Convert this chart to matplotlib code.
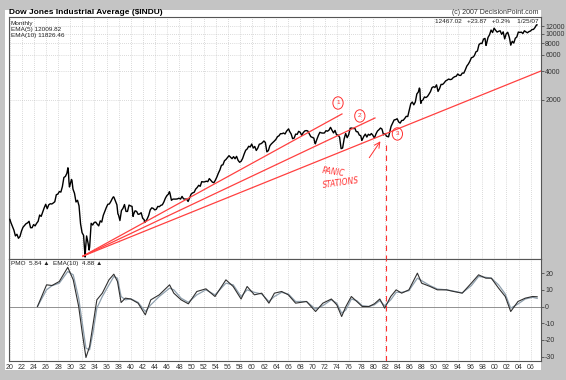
import numpy as np
import matplotlib
matplotlib.use("Agg")
import matplotlib.pyplot as plt

plt.rcParams['font.family'] = ['Liberation Sans', 'DejaVu Sans']

# DJIA month-end closes, Mar/Jun/Sep/Dec of each year
dow_years = list(range(1920, 2007))
dow_quarters = [
    [100, 91, 83, 72], [75, 68, 71, 81], [89, 93, 97, 99], [103, 88, 88, 95],
    [92, 98, 103, 120], [116, 129, 143, 156], [140, 154, 158, 157], [161, 166, 197, 200],
    [213, 210, 240, 300], [308, 333, 343, 248], [286, 226, 204, 165], [172, 150, 97, 78],
    [73, 43, 72, 60], [55, 98, 94, 100], [101, 96, 92, 104], [101, 119, 131, 144],
    [156, 157, 167, 180], [186, 169, 154, 121], [105, 134, 141, 155], [131, 131, 153, 150],
    [148, 122, 133, 131], [122, 123, 127, 111], [107, 103, 109, 119], [136, 143, 141, 136],
    [138, 148, 147, 152], [154, 165, 181, 193], [200, 205, 172, 177], [177, 177, 178, 181],
    [177, 189, 178, 177], [177, 167, 182, 200], [206, 209, 226, 235], [248, 242, 271, 269],
    [270, 274, 271, 292], [280, 268, 264, 281], [304, 334, 361, 404], [409, 451, 466, 488],
    [511, 492, 475, 499], [474, 503, 456, 435], [446, 478, 532, 583], [602, 643, 632, 679],
    [616, 640, 580, 615], [676, 683, 701, 731], [706, 561, 579, 652], [682, 706, 732, 762],
    [813, 831, 875, 874], [889, 868, 930, 969], [924, 870, 774, 785], [865, 860, 926, 905],
    [840, 897, 935, 943], [935, 873, 813, 800], [785, 683, 760, 838], [904, 891, 887, 890],
    [940, 929, 953, 1020], [951, 891, 947, 850], [846, 802, 607, 616], [768, 879, 793, 852],
    [999, 1003, 990, 1004], [919, 916, 847, 831], [757, 819, 865, 805], [862, 842, 878, 839],
    [786, 868, 932, 964], [1004, 977, 850, 875], [822, 811, 896, 1046], [1130, 1222, 1233, 1259],
    [1165, 1132, 1207, 1212], [1267, 1336, 1329, 1547], [1819, 1893, 1768, 1896], [2305, 2419, 2597, 1939],
    [1988, 2142, 2113, 2169], [2294, 2440, 2693, 2753], [2707, 2881, 2453, 2634], [2914, 2907, 3017, 3169],
    [3236, 3319, 3272, 3301], [3436, 3516, 3555, 3754], [3636, 3625, 3843, 3834], [4158, 4556, 4789, 5117],
    [5587, 5655, 5882, 6448], [6584, 7673, 7945, 7908], [8800, 8952, 7843, 9181], [9786, 10971, 10337, 11497],
    [10922, 10448, 10651, 10787], [9879, 10502, 8848, 10022], [10404, 9243, 7592, 8342], [7992, 8985, 9275, 10454],
    [10358, 10435, 10080, 10783], [10504, 10275, 10569, 10718], [11109, 11150, 11679, 12463],
]
# extra monthly closes around turning points
extra_months = ["1920-01", "1929-08", "1929-10", "1929-11", "1930-04", "1932-07", "1933-02",
                "1937-02", "1937-11", "1940-05", "1942-04", "1946-05", "1966-01", "1970-05",
                "1973-01", "1978-02", "1982-07", "1987-08", "1987-10", "1987-11", "1998-08",
                "2002-07", "2007-01"]
extra_close = [108, 380, 273, 238, 279, 54, 51, 187, 123, 116, 100, 212, 983, 700,
               999, 742, 809, 2663, 1994, 1834, 7539, 8737, 12467]

# PMO and its 10-period EMA (lower panel)
pmo_years = [1924.6, 1926.1, 1927.0, 1928.2, 1929.6, 1930.5, 1931.4, 1932.0, 1932.6, 1933.2,
             1933.8, 1934.4, 1935.3, 1936.4, 1937.2, 1937.8, 1938.4, 1939.1, 1940.0, 1941.2,
             1942.4, 1943.3, 1944.7, 1946.4, 1947.1, 1948.3, 1949.5, 1950.9, 1952.4, 1953.9,
             1955.7, 1956.9, 1958.2, 1959.2, 1960.4, 1961.6, 1962.8, 1963.7, 1964.9, 1966.0,
             1967.2, 1969.0, 1970.5, 1971.7, 1973.1, 1974.0, 1974.8, 1975.5, 1976.4, 1977.3,
             1978.2, 1979.3, 1980.2, 1981.1, 1981.9, 1982.9, 1983.8, 1984.7, 1985.9, 1987.3,
             1988.0, 1989.4, 1990.6, 1992.1, 1993.3, 1994.7, 1996.2, 1997.4, 1998.6, 1999.5,
             2000.7, 2001.8, 2002.7, 2003.9, 2005.1, 2006.3, 2007.07]
pmo = [0, 13, 12.6, 15, 23.5, 16, 0, -16, -30.6, -24,
       -10, 4, 8, 16, 19.4, 15, 2.4, 5, 4.5, 2,
       -5, 4, 7, 13, 8, 4, 1.6, 9, 10.6, 6,
       16, 12, 4.5, 12, 7, 8, 2, 8, 9, 7,
       2, 3, -3, 2, 4.5, 1, -6, 0, 6, 3,
       0, 0, 1.6, 4.5, -1, 6, 10, 8, 10, 20,
       14, 12, 10, 10, 9, 8, 14, 19, 17, 17,
       11, 6, -3, 3, 5, 6, 5.84]
pmo_ema = [0, 10, 12.5, 14, 21, 19, 5, -10, -25, -26,
           -15, -1, 6, 13, 18, 17, 6, 4, 4.6, 2.5,
           -3, 1, 6, 11, 10, 5, 2.5, 7, 10, 7,
           14, 13, 6, 10, 8.5, 7.5, 3, 6, 8.5, 7.5,
           3, 3, -1.5, 0.5, 4, 2, -4, -2, 4.5, 3.5,
           0.5, 0, 1, 3.5, 0.5, 4, 8.5, 8.5, 9.5, 17,
           15.5, 12.5, 10.5, 10, 9.2, 8.2, 12.5, 18, 17.5, 17,
           13, 7.5, -1, 1.5, 4.5, 5.5, 4.88]

# hand-drawn trend lines from the 1932 low
trend_start = (1932.1, 44)
trend_ends = [(1974.85, 1415), (1980.3, 1283), (2007.7, 4042)]
circle_labels = ["1", "2", "3"]
circle_pos = [(1974.2, 1850), (1977.8, 1348), (1984.0, 869)]

price_ticks = [2000, 4000, 6000, 8000, 10000, 12000]
pmo_ticks = [20, 10, 0, -10, -20, -30]
year_ticks = list(range(1920, 2007, 2))


def month_to_year(s):
    y, m = s.split("-")
    return int(y) + (int(m) - 0.5) / 12.0


dates = []
closes = []
for yr, q in zip(dow_years, dow_quarters):
    for m, v in zip([3, 6, 9, 12], q):
        dates.append(yr + (m - 0.5) / 12.0)
        closes.append(v)
for s, v in zip(extra_months, extra_close):
    dates.append(month_to_year(s))
    closes.append(v)
order = np.argsort(dates)
dates = np.array(dates)[order]
closes = np.array(closes)[order]

fig = plt.figure(figsize=(5.66, 3.80), dpi=100, facecolor='#c4c4c4')
fig.patches.append(plt.Rectangle((5 / 566, 1 - 370 / 380), 536 / 566, 360 / 380,
                                 transform=fig.transFigure, fc='white', ec='none', zorder=-10))

ax1 = fig.add_axes([9 / 566, 1 - 259 / 380, 532 / 566, 242 / 380])
ax2 = fig.add_axes([9 / 566, 1 - 361 / 380, 532 / 566, 102 / 380], sharex=ax1)

xlim = (1919.9, 2007.7)
grid_kw = dict(color='#b8b8b8', lw=0.5, ls=(0, (1, 2)))

# upper panel
ax1.plot(dates, closes, color='black', lw=1.0, zorder=3)
ax1.set_yscale('log')
ax1.set_ylim(41, 15100)
ax1.set_xlim(*xlim)
ax1.yaxis.tick_right()
ax1.set_yticks(price_ticks)
ax1.set_yticklabels([str(t) for t in price_ticks])
ax1.yaxis.set_minor_locator(matplotlib.ticker.NullLocator())
for t in year_ticks:
    ax1.axvline(t, zorder=0, **grid_kw)
for t in price_ticks:
    ax1.axhline(t, zorder=0, **grid_kw)
ax1.tick_params(axis='x', bottom=False, labelbottom=False)
ax1.tick_params(axis='y', length=2, width=0.5, labelsize=5, pad=1, colors='#333333')

for end in trend_ends:
    ax1.plot([trend_start[0], end[0]], [trend_start[1], end[1]], color='#ff4040', lw=0.9, zorder=4)
for lab, pos in zip(circle_labels, circle_pos):
    ax1.text(pos[0], pos[1], lab, fontsize=4.5, color='#ff3030', ha='center', va='center', zorder=5,
             bbox=dict(boxstyle='ellipse,pad=0.3', fc='none', ec='#ff3030', lw=0.7))
ax1.annotate('', xy=(1981.45, 768), xytext=(1979.1, 460),
             arrowprops=dict(arrowstyle='->', color='#ff3030', lw=0.7))
ax1.text(1973.4, 343, 'PANIC', fontsize=5.5, color='#ff3030', ha='center', va='center',
         rotation=-8, style='italic', family='DejaVu Sans')
ax1.text(1974.7, 263, 'STATIONS', fontsize=5.5, color='#ff3030', ha='center', va='center',
         rotation=8, style='italic', family='DejaVu Sans')
ax1.plot([1982.1, 1982.1], [663, 41], color='#ff3030', lw=0.8, ls=(0, (5, 4)), zorder=4)

ax1.text(0.0, 1.003, 'Dow Jones Industrial Average ($INDU)', transform=ax1.transAxes,
         fontsize=6.0, fontweight='bold', ha='left', va='bottom')
ax1.text(0.003, 0.985, 'Monthly\nEMA(5) 12009.82\nEMA(10) 11826.46', transform=ax1.transAxes,
         fontsize=4.6, ha='left', va='top', linespacing=1.25, color='#222222')
ax1.text(0.995, 1.003, '(c) 2007 DecisionPoint.com', transform=ax1.transAxes,
         fontsize=5, ha='right', va='bottom', color='#333333')
ax1.text(0.995, 0.99, '12467.02   +23.87   +0.2%    1/25/07', transform=ax1.transAxes,
         fontsize=4.6, ha='right', va='top', color='#222222')

# lower panel
ax2.axhline(0, color='#909090', lw=0.7, zorder=1)
ax2.plot(pmo_years, pmo_ema, color='#8fa0ae', lw=0.9, zorder=2)
ax2.plot(pmo_years, pmo, color='#303030', lw=0.8, zorder=3)
ax2.set_ylim(-32.7, 28.5)
ax2.set_xlim(*xlim)
ax2.yaxis.tick_right()
ax2.set_yticks(pmo_ticks)
ax2.set_yticklabels([str(t) for t in pmo_ticks])
for t in year_ticks:
    ax2.axvline(t, zorder=0, **grid_kw)
ax2.set_xticks(year_ticks)
ax2.set_xticklabels(['%02d' % (t % 100) for t in year_ticks])
ax2.tick_params(axis='x', length=0, labelsize=5, pad=2, colors='#333333')
ax2.tick_params(axis='y', length=2, width=0.5, labelsize=5, pad=1, colors='#333333')
ax2.axvline(1982.1, color='#ff3030', lw=0.8, ls=(0, (5, 4)), zorder=4)
ax2.text(0.003, 0.985, 'PMO  5.84 \u25b2  EMA(10)  4.88 \u25b2', transform=ax2.transAxes,
         fontsize=4.6, ha='left', va='top', color='#222222')

for ax in (ax1, ax2):
    for sp in ax.spines.values():
        sp.set_color('#555555')
        sp.set_linewidth(0.8)

fig.savefig('out.png', dpi=100, facecolor=fig.get_facecolor())
